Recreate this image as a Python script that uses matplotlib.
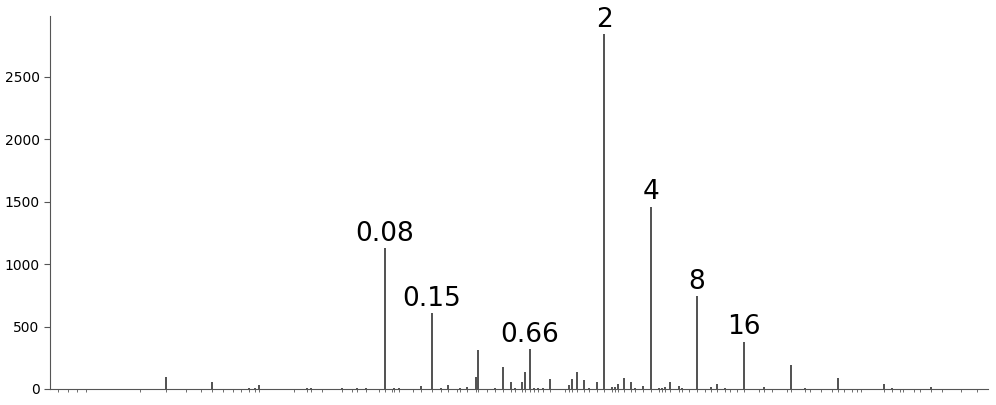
import matplotlib.pyplot as plt

# bar positions along the axis and counts
positions = [58, 68, 77, 86, 140, 166, 186, 201, 212, 223, 233, 241, 249, 255, 259,
             294, 307, 311, 322, 342, 352, 357, 366, 379, 385, 392,
             394, 399, 413, 421, 432, 441, 448, 457, 460, 467, 476, 478, 487, 495, 503,
             511, 515, 522, 525, 530, 534, 538, 543, 550, 565, 569, 572, 577, 584, 589,
             597, 604, 612, 615, 618, 624, 631, 635, 643, 651, 659, 662, 665, 670, 679,
             682, 689, 697, 705, 711, 717, 725, 730, 737, 744, 759, 764, 772, 787, 791,
             805, 810, 821, 832, 838, 844, 852, 857, 861, 884, 892, 900, 903, 914, 920,
             931, 942, 961, 977]
counts = [2, 2, 2, 2, 3, 100, 3, 4, 60, 4, 4, 4, 6, 8, 30,
          4, 8, 12, 3, 6, 4, 8, 10, 3, 1130, 3,
          6, 6, 4, 22, 610, 6, 35, 4, 6, 15, 100, 310, 4, 12, 180,
          55, 8, 60, 140, 320, 10, 6, 5, 80, 3, 30, 80, 135, 70, 6,
          55, 2840, 15, 15, 40, 85, 55, 8, 25, 1460, 10, 6, 20, 55, 25,
          6, 4, 745, 4, 15, 40, 6, 4, 4, 380, 4, 15, 4, 4, 195,
          10, 4, 3, 4, 90, 3, 3, 4, 3, 40, 5, 4, 3, 4, 3,
          20, 3, 2, 2]

label_pos = [385, 432, 530, 604, 651, 697, 744]
label_txt = ['0.08', '0.15', '0.66', '2', '4', '8', '16']

fig = plt.figure(figsize=(9.96, 4.05), dpi=100)
ax = fig.add_axes([50 / 996, 16 / 405, 938 / 996, 373 / 405])

ax.bar(positions, counts, width=2.2, color='#555555', linewidth=0)

for p, t in zip(label_pos, label_txt):
    h = counts[positions.index(p)]
    ax.text(p, h + 10, t, ha='center', va='bottom', fontsize=19)

ax.set_xlim(50, 988)
ax.set_ylim(0, 2985)
ax.set_xticks(positions)
ax.set_xticklabels([])
ax.set_yticks([0, 500, 1000, 1500, 2000, 2500])
ax.tick_params(axis='x', length=2.5, width=0.6, color='#555555')
ax.tick_params(axis='y', length=4, width=0.8, color='#555555', labelsize=10)
for s in ['top', 'right']:
    ax.spines[s].set_visible(False)
for s in ['left', 'bottom']:
    ax.spines[s].set_color('#555555')

fig.savefig('out.png', dpi=100)
